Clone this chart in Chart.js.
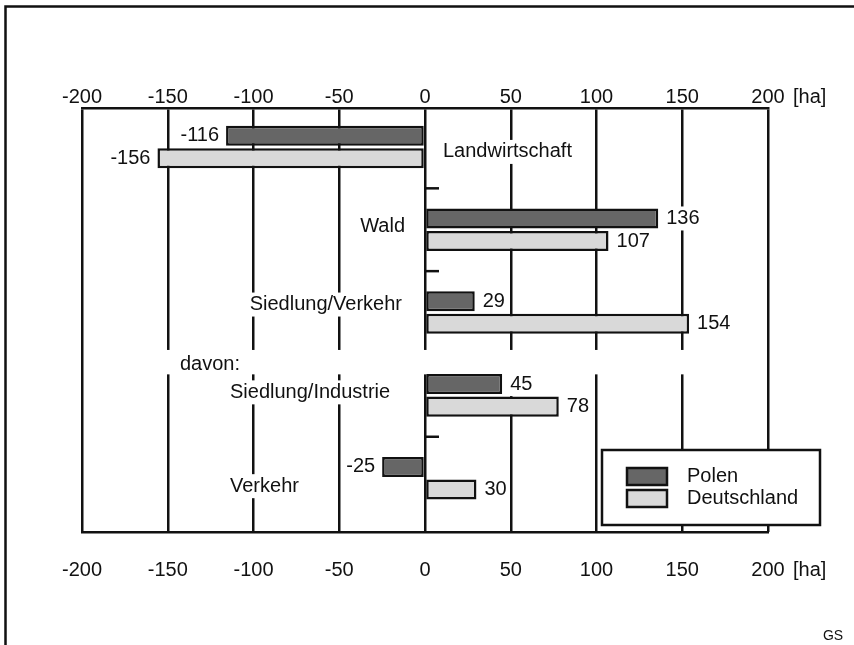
<!DOCTYPE html>
<html>
<head>
  <title>Flächenänderung Polen / Deutschland</title>
  <script src="https://cdn.jsdelivr.net/npm/chart.js"></script>
  <style>
    body {
      margin: 0;
      background: #fff;
    }
    canvas {
      display: block;
    }
  </style>
</head>
<body>
  <canvas id="landChart" width="854" height="645"></canvas>

  <script>
    const categories = ['Landwirtschaft', 'Wald', 'Siedlung/Verkehr', 'Siedlung/Industrie', 'Verkehr'];
    const polen = [-116, 136, 29, 45, -25];
    const deutschland = [-156, 107, 154, 78, 30];
    const xTicks = [-200, -150, -100, -50, 0, 50, 100, 150, 200];
    const unitLabel = '[ha]';
    const subGroupLabel = 'davon:';
    const subGroupStart = 3; // "davon:" rows begin at this category
    const sourceNote = 'GS';

    const FONT = '"Liberation Sans", Arial, sans-serif';
    const INK = '#111';
    const LINE = 2.5;
    const PAD_TOP = -1, PAD_BOTTOM = 26;

    // where each category name sits: px from the 0 line, px from the row centre
    const namePlace = [
      { dx: 18, dy: 5, align: 'left' },
      { dx: -20, dy: -3, align: 'right' },
      { dx: -23, dy: -8, align: 'right' },
      { dx: -195, dy: -3, align: 'left' },
      { dx: -195, dy: 8, align: 'left' }
    ];

    function boxedText(ctx, text, x, y, align, pad) {
      const w = ctx.measureText(text).width;
      const left = align === 'left' ? x : x - w;
      ctx.fillStyle = '#fff';
      ctx.fillRect(left - pad, y - 12, w + pad * 2, 24);
      ctx.fillStyle = INK;
      ctx.textAlign = align;
      ctx.fillText(text, x, y);
    }

    const annotate = {
      id: 'annotate',
      beforeDatasetsDraw(chart) {
        const { ctx, chartArea: a, scales: { x, y } } = chart;
        const x0 = x.getPixelForValue(0);
        ctx.save();
        // gap in the grid before the "davon:" rows
        const bandTop = y.getPixelForValue(subGroupStart - 0.5) - 4;
        const bandBottom = y.getPixelForValue(subGroupStart) - 21;
        ctx.fillStyle = '#fff';
        ctx.fillRect(a.left + 2, bandTop, a.right - a.left - 4, bandBottom - bandTop);

        ctx.font = '20px ' + FONT;
        ctx.textBaseline = 'middle';
        categories.forEach((c, i) => {
          const p = namePlace[i];
          boxedText(ctx, c, x0 + p.dx, y.getPixelForValue(i) + p.dy, p.align, 4);
        });
        boxedText(ctx, subGroupLabel, x0 - 245, y.getPixelForValue(subGroupStart) - 31, 'left', 4);

        chart.data.datasets.forEach((ds, d) => {
          chart.getDatasetMeta(d).data.forEach((bar, i) => {
            const v = ds.data[i].x;
            const neg = v < 0;
            boxedText(ctx, String(v), neg ? bar.x - 7 : bar.x + 8, bar.y, neg ? 'right' : 'left', 1);
          });
        });
        ctx.restore();
      },
      afterDatasetsDraw(chart) {
        const { ctx, scales: { x, y } } = chart;
        const x0 = x.getPixelForValue(0);
        ctx.save();
        ctx.strokeStyle = INK;
        ctx.lineWidth = LINE;
        for (let i = 0; i < categories.length - 1; i++) {
          if (i + 1 === subGroupStart) continue;
          const yb = (y.getPixelForValue(i) + y.getPixelForValue(i + 1)) / 2;
          ctx.beginPath();
          ctx.moveTo(x0, yb);
          ctx.lineTo(x0 + 14, yb);
          ctx.stroke();
        }
        ctx.restore();
      },
      afterDraw(chart) {
        const { ctx, chartArea: a, scales: { x } } = chart;
        ctx.save();
        ctx.fillStyle = INK;
        ctx.strokeStyle = INK;
        ctx.lineWidth = LINE;

        // unit after the 200 labels
        ctx.font = '20px ' + FONT;
        ctx.textBaseline = 'middle';
        ctx.textAlign = 'left';
        const ux = x.getPixelForValue(200) + 25;
        ctx.fillText(unitLabel, ux, a.top - PAD_TOP - 12);
        ctx.fillText(unitLabel, ux, a.bottom + PAD_BOTTOM + 12);

        // legend box
        const bx = a.right - 166, by = a.bottom - 82, bw = 218, bh = 75;
        ctx.fillStyle = '#fff';
        ctx.fillRect(bx, by, bw, bh);
        ctx.strokeRect(bx, by, bw, bh);
        chart.data.datasets.forEach((ds, i) => {
          const sy = by + 18 + i * 22;
          ctx.fillStyle = ds.backgroundColor;
          ctx.fillRect(bx + 25, sy, 40, 17);
          ctx.strokeRect(bx + 25, sy, 40, 17);
          ctx.fillStyle = INK;
          ctx.fillText(ds.label, bx + 85, sy + 8);
        });

        // outer frame (left + top) and note
        ctx.beginPath();
        ctx.moveTo(5.5, 645);
        ctx.lineTo(5.5, 6.5);
        ctx.lineTo(854, 6.5);
        ctx.stroke();
        ctx.font = '14px ' + FONT;
        ctx.textAlign = 'center';
        ctx.fillText(sourceNote, 833, 636);
        ctx.restore();
      }
    };

    const setTicks = scale => { scale.ticks = xTicks.map(v => ({ value: v })); };
    const rowTicks = scale => { scale.ticks = categories.map((c, i) => ({ value: i })); };
    const tickFont = { family: FONT, size: 20 };

    new Chart(document.getElementById('landChart'), {
      type: 'bar',
      data: {
        datasets: [{
          label: 'Polen',
          data: polen.map((v, i) => ({ x: v, y: i })),
          backgroundColor: '#666666',
          borderColor: INK,
          borderWidth: LINE,
          borderSkipped: false
        }, {
          label: 'Deutschland',
          data: deutschland.map((v, i) => ({ x: v, y: i })),
          backgroundColor: '#d9d9d9',
          borderColor: INK,
          borderWidth: LINE,
          borderSkipped: false
        }]
      },
      options: {
        indexAxis: 'y',
        responsive: false,
        animation: false,
        categoryPercentage: 0.544,
        barPercentage: 0.89,
        layout: { padding: { top: 86, bottom: 37, left: 82, right: 86 } },
        scales: {
          x: {
            type: 'linear',
            position: 'top',
            min: -200,
            max: 200,
            afterBuildTicks: setTicks,
            grid: { color: INK, lineWidth: LINE, drawTicks: false },
            border: { color: INK, width: LINE },
            ticks: { color: INK, font: tickFont, padding: PAD_TOP, maxRotation: 0 }
          },
          x2: {
            type: 'linear',
            position: 'bottom',
            min: -200,
            max: 200,
            afterBuildTicks: setTicks,
            grid: { display: false, drawTicks: false },
            border: { color: INK, width: LINE },
            ticks: { color: INK, font: tickFont, padding: PAD_BOTTOM, maxRotation: 0 }
          },
          y: {
            type: 'linear',
            reverse: true,
            offset: false,
            min: -0.47,
            max: 4.65,
            afterBuildTicks: rowTicks,
            display: false
          }
        },
        plugins: {
          legend: { display: false },
          tooltip: { enabled: false }
        }
      },
      plugins: [annotate]
    });
  </script>
</body>
</html>
